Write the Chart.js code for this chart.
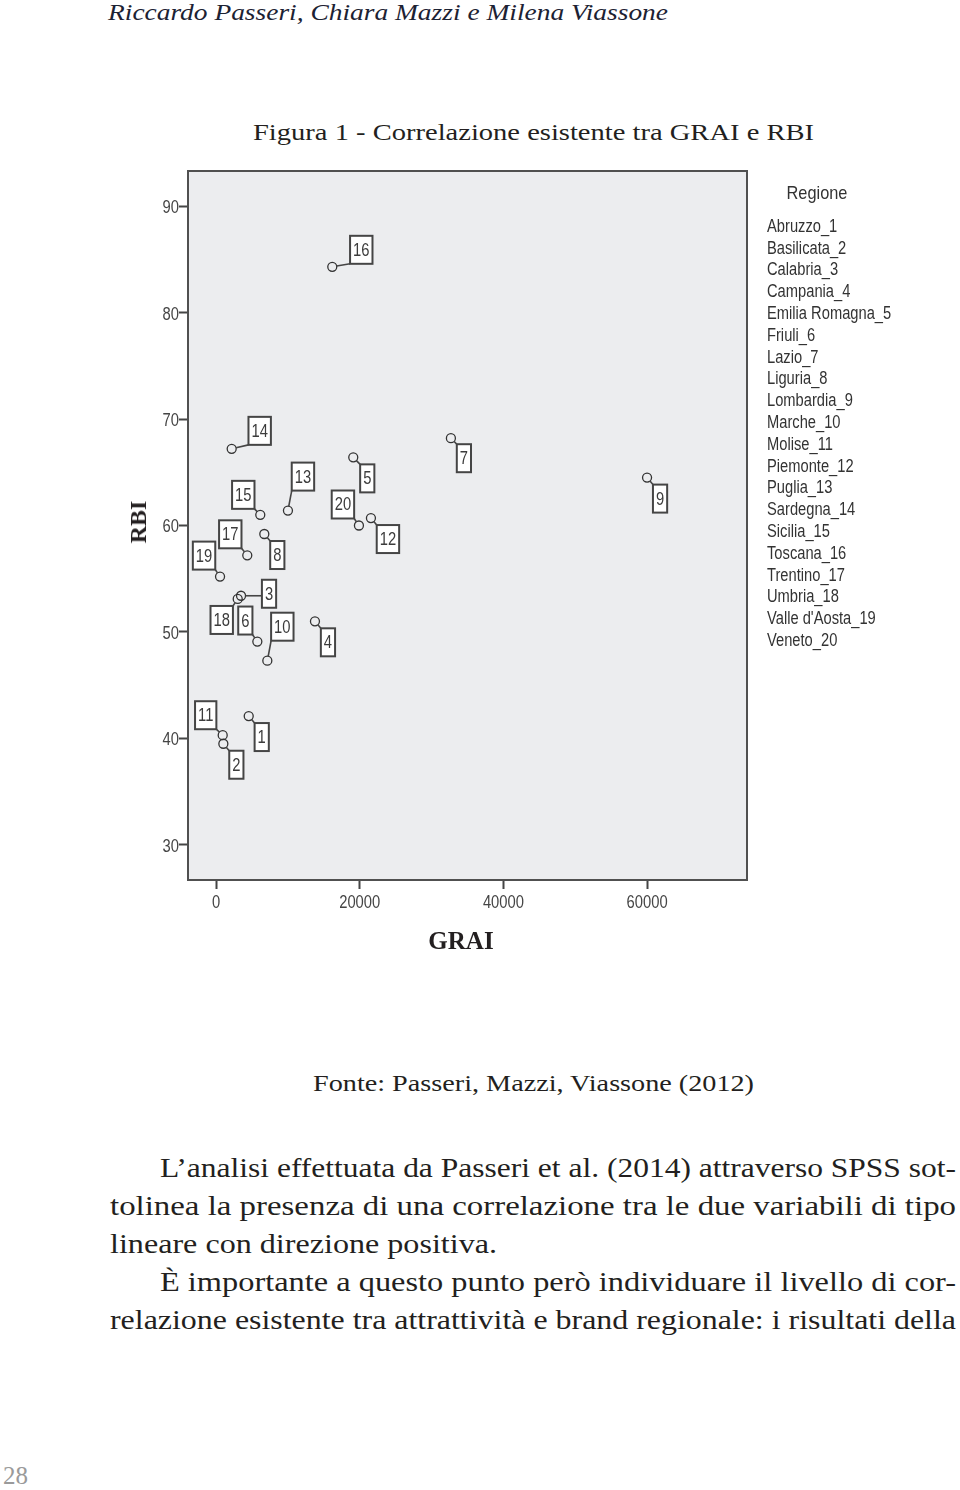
<!DOCTYPE html>
<html lang="it">
<head>
<meta charset="utf-8">
<style>
    body { margin: 0; width: 960px; height: 1490px; position: relative; overflow: hidden; background: #fff;
           font-family: "Liberation Serif", "Times New Roman", serif; color: #231f20; }
    .t { position: absolute; white-space: nowrap; line-height: 1; transform-origin: 0 0; }
    .body { font-size: 28px; }
    #chartBox { position: absolute; left: 0; top: 160px; width: 960px; height: 800px; }
</style>
</head>
<body>
    <div class="t" data-w="560" style="left:108px; top:1px; font-size:23px; font-style:italic; color:#1c2233;">Riccardo Passeri, Chiara Mazzi e Milena Viassone</div>
    <div class="t" data-w="561" style="left:253px; top:120px; font-size:24px;">Figura 1 - Correlazione esistente tra GRAI e RBI</div>

    <div id="chartBox"><canvas id="myChart" width="960" height="800"></canvas></div>

    <div class="t" style="left:138px; top:522px; font-size:24px; font-weight:bold; transform: translate(-50%, -50%) rotate(-90deg); transform-origin: 50% 50%;">RBI</div>
    <div class="t" style="left:461px; top:940px; font-size:25px; font-weight:bold; transform: translate(-50%, -50%); transform-origin: 50% 50%;">GRAI</div>

    <div class="t" data-w="441" style="left:313px; top:1071px; font-size:24px;">Fonte: Passeri, Mazzi, Viassone (2012)</div>

    <div class="t body" data-w="796" style="left:160px; top:1154px;">L’analisi effettuata da Passeri et al. (2014) attraverso SPSS sot-</div>
    <div class="t body" data-w="846" style="left:110px; top:1192px;">tolinea la presenza di una correlazione tra le due variabili di tipo</div>
    <div class="t body" data-w="387" style="left:110px; top:1230px;">lineare con direzione positiva.</div>
    <div class="t body" data-w="796" style="left:160px; top:1268px;">È importante a questo punto però individuare il livello di cor-</div>
    <div class="t body" data-w="846" style="left:110px; top:1306px;">relazione esistente tra attrattività e brand regionale: i risultati della</div>

    <div class="t" style="left:3px; top:1463px; font-size:25px; color:#9a9a9a;">28</div>

    <script src="https://cdnjs.cloudflare.com/ajax/libs/Chart.js/4.4.1/chart.umd.min.js"></script>

    <script>
        // stretch text lines to the width they take on the printed page
        document.querySelectorAll('[data-w]').forEach(function (el) {
            var w = el.getBoundingClientRect().width;
            el.style.transform = 'scaleX(' + (parseFloat(el.dataset.w) / w) + ')';
        });

        var regions = ['Abruzzo', 'Basilicata', 'Calabria', 'Campania', 'Emilia Romagna', 'Friuli', 'Lazio',
            'Liguria', 'Lombardia', 'Marche', 'Molise', 'Piemonte', 'Puglia', 'Sardegna', 'Sicilia',
            'Toscana', 'Trentino', 'Umbria', "Valle d'Aosta", 'Veneto'];
        var grai = [4550, 1020, 3480, 13770, 19100, 5750, 32690, 6720, 59990, 7140,
            930, 21560, 10010, 2180, 6160, 16180, 4350, 3020, 560, 19890];
        var rbi = [42.1, 39.5, 53.4, 51.0, 66.4, 49.1, 68.2, 59.2, 64.5, 47.3,
            40.3, 60.7, 61.4, 67.2, 61.0, 84.3, 57.2, 53.1, 55.2, 60.0];
        var xTicks = [0, 20000, 40000, 60000];
        var yTicks = [30, 40, 50, 60, 70, 80, 90];
        var legendTitle = 'Regione';

        // where each numbered box sits relative to its point (px)
        var labelOffsets = [[13, 21], [13, 21], [28, -2], [13, 21], [14, 21], [-12, -21], [13, 20], [13, 21],
            [13, 21], [15, -34], [-17, -20], [17, 21], [15, -34], [28, -18], [-17, -20], [29, -17],
            [-17, -21], [-16, 21], [-16, -21], [-16, -21]];

        var SANS = '"Liberation Sans", Arial, sans-serif';
        var INK = '#454545';

        // Arial squeezed horizontally, like the Arial Narrow of SPSS output
        function narrowText(ctx, txt, x, y, size, align, squeeze) {
            ctx.save();
            ctx.font = size + 'px ' + SANS;
            ctx.textAlign = align;
            ctx.textBaseline = 'middle';
            ctx.translate(x, y);
            ctx.scale(squeeze, 1);
            ctx.fillText(txt, 0, 0);
            ctx.restore();
        }

        var points = grai.map(function (g, i) { return { x: g, y: rbi[i] }; });

        var spssPlot = {
            id: 'spssPlot',
            beforeDraw: function (chart) {
                var a = chart.chartArea, ctx = chart.ctx;
                ctx.save();
                ctx.fillStyle = '#ecedef';
                ctx.fillRect(a.left, a.top, a.right - a.left, a.bottom - a.top);
                ctx.restore();
            },
            afterDatasetsDraw: function (chart) {
                var ctx = chart.ctx;
                var meta = chart.getDatasetMeta(0);
                ctx.save();
                ctx.font = '18px ' + SANS;
                meta.data.forEach(function (pt, i) {
                    var txt = String(i + 1);
                    var w = ctx.measureText(txt).width * 0.82 + 6, h = 28;
                    var cx = pt.x + labelOffsets[i][0], cy = pt.y + labelOffsets[i][1];
                    var l = cx - w / 2, t = cy - h / 2;
                    // leader line from the circle edge to the nearest point of the box
                    var nx = Math.min(Math.max(pt.x, l), l + w);
                    var ny = Math.min(Math.max(pt.y, t), t + h);
                    var d = Math.hypot(nx - pt.x, ny - pt.y);
                    if (d > 5) {
                        ctx.beginPath();
                        ctx.moveTo(pt.x + (nx - pt.x) * 4.5 / d, pt.y + (ny - pt.y) * 4.5 / d);
                        ctx.lineTo(nx, ny);
                        ctx.strokeStyle = INK;
                        ctx.lineWidth = 1.6;
                        ctx.stroke();
                    }
                    ctx.fillStyle = '#fff';
                    ctx.fillRect(l, t, w, h);
                    ctx.strokeStyle = INK;
                    ctx.lineWidth = 2;
                    ctx.strokeRect(l, t, w, h);
                    ctx.fillStyle = '#3c3c3c';
                    narrowText(ctx, txt, cx, cy + 1, 18, 'center', 0.82);
                });
                ctx.restore();
            },
            afterDraw: function (chart) {
                var a = chart.chartArea, ctx = chart.ctx;
                var xs = chart.scales.x, ys = chart.scales.y;
                ctx.save();
                ctx.strokeStyle = '#505050';
                ctx.lineWidth = 2;
                ctx.strokeRect(a.left, a.top, a.right - a.left, a.bottom - a.top);

                // tick labels, placed by the scales
                ctx.fillStyle = INK;
                xs.ticks.forEach(function (t) {
                    narrowText(ctx, String(t.value), xs.getPixelForValue(t.value), a.bottom + 23, 18, 'center', 0.82);
                });
                ys.ticks.forEach(function (t) {
                    narrowText(ctx, String(t.value), a.left - 9, ys.getPixelForValue(t.value) + 2, 18, 'right', 0.82);
                });

                // legend
                ctx.fillStyle = '#333';
                narrowText(ctx, legendTitle, 817, 34, 19, 'center', 0.86);
                for (var i = 0; i < regions.length; i++) {
                    narrowText(ctx, regions[i] + '_' + (i + 1), 767, 67 + i * 21.8, 17.5, 'left', 0.84);
                }
                ctx.restore();
            }
        };

        var ctx = document.getElementById('myChart').getContext('2d');
        var scatter = new Chart(ctx, {
            type: 'scatter',
            data: {
                datasets: [{
                    data: points,
                    pointRadius: 4.5,
                    pointHoverRadius: 4.5,
                    pointBorderWidth: 1.3,
                    pointBorderColor: '#333',
                    pointBackgroundColor: 'rgba(0,0,0,0)'
                }]
            },
            options: {
                responsive: false,
                devicePixelRatio: 1,
                animation: false,
                layout: { padding: { left: 150, right: 213, top: 11, bottom: 40 } },
                plugins: { legend: { display: false }, tooltip: { enabled: false } },
                scales: {
                    x: {
                        type: 'linear',
                        min: -3900,
                        max: 73900,
                        afterBuildTicks: function (scale) {
                            scale.ticks = xTicks.map(function (v) { return { value: v }; });
                        },
                        afterFit: function (scale) { scale.height = 40; },
                        border: { display: false },
                        grid: { drawOnChartArea: false, tickLength: 9, tickColor: INK, tickWidth: 2 },
                        ticks: { display: false }
                    },
                    y: {
                        min: 26.7,
                        max: 93.3,
                        afterBuildTicks: function (scale) {
                            scale.ticks = yTicks.map(function (v) { return { value: v }; });
                        },
                        afterFit: function (scale) { scale.width = 38; },
                        border: { display: false },
                        grid: { drawOnChartArea: false, tickLength: 9, tickColor: INK, tickWidth: 2 },
                        ticks: { display: false }
                    }
                }
            },
            plugins: [spssPlot]
        });
    </script>
</body>
</html>
